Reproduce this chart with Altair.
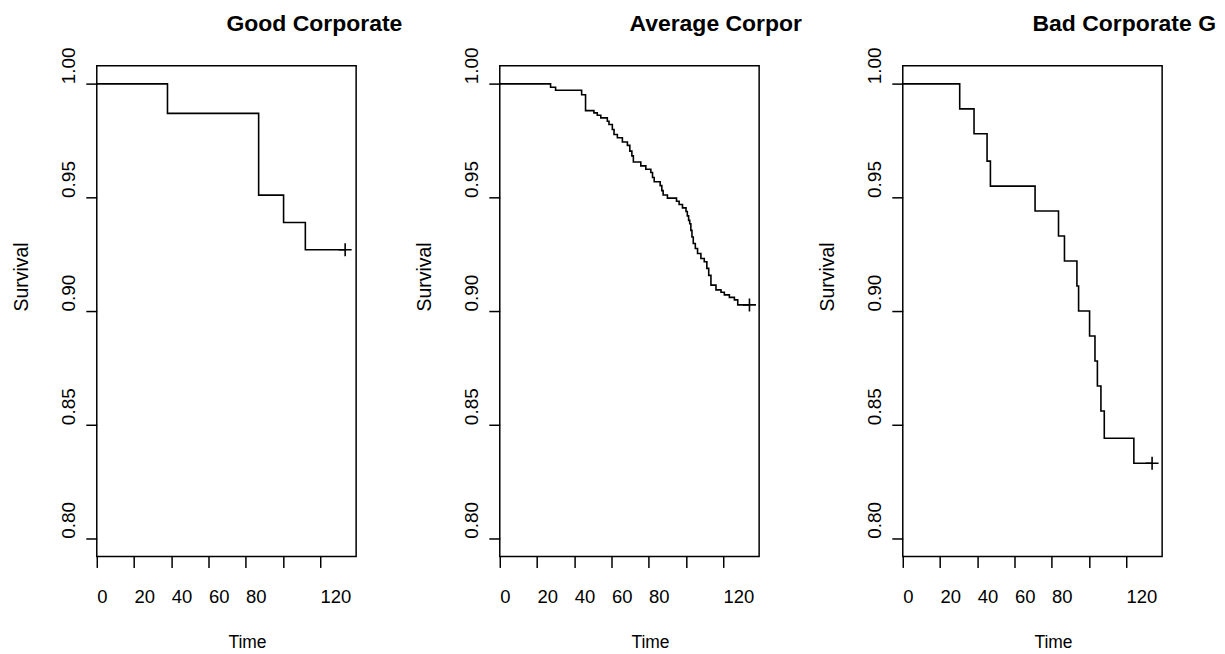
import altair as alt
import pandas as pd

# ---- data (Kaplan-Meier step curves) ----
panel_titles = ["Good Corporate", "Average Corpor", "Bad Corporate G"]

good_times = [38.0, 87.0, 100.4, 112.1]
good_surv = [0.987, 0.951, 0.939, 0.927]
good_end = 133.5

avg_times = [27.3, 30.0, 44.0, 46.1, 50.6, 52.4, 54.3, 57.8, 58.7, 60.5,
             61.4, 63.2, 65.9, 68.6, 69.9, 71.0, 71.8, 75.8, 78.5, 81.2,
             82.1, 83.0, 86.2, 87.1, 87.8, 90.1, 95.0, 96.4, 98.2, 100.1,
             100.8, 101.5, 102.1, 102.7, 103.3, 104.0, 105.1, 106.3, 108.1, 109.9,
             111.3, 112.3, 113.5, 116.2, 118.9, 120.7, 123.4, 126.1, 127.9]
avg_surv = [0.9985, 0.9972, 0.9952, 0.9882, 0.9872, 0.9862, 0.9850, 0.9835, 0.9821, 0.9799,
            0.9777, 0.9763, 0.9744, 0.9729, 0.9704, 0.9683, 0.9656, 0.9639, 0.9624, 0.9610,
            0.9588, 0.9569, 0.9552, 0.9530, 0.9511, 0.9497, 0.9483, 0.9469, 0.9454, 0.9438,
            0.9419, 0.9399, 0.9384, 0.9355, 0.9326, 0.9297, 0.9275, 0.9253, 0.9231, 0.9217,
            0.9188, 0.9157, 0.9114, 0.9093, 0.9083, 0.9071, 0.9060, 0.9049, 0.9027]
avg_end = 134.2

bad_times = [30.6, 38.3, 45.3, 47.1, 71.1, 83.7, 86.9, 93.6, 94.5, 100.4,
             103.3, 104.6, 106.5, 108.3, 124.2]
bad_surv = [0.989, 0.978, 0.966, 0.955, 0.944, 0.933, 0.922, 0.911, 0.900, 0.889,
            0.878, 0.867, 0.856, 0.844, 0.833]
bad_end = 134.0

x_ticks = [0, 20, 40, 60, 80, 100, 120]
y_ticks = [0.80, 0.85, 0.90, 0.95, 1.00]

FONT = "Liberation Sans"
PW, PH = 260, 492


def panel(title, times, surv, end):
    steps = pd.DataFrame({
        "time": [0.0] + list(times) + [end],
        "surv": [1.0] + list(surv) + [surv[-1]],
    })
    cens = pd.DataFrame({"time": [end], "surv": [surv[-1]]})

    xenc = alt.X("time:Q",
                 scale=alt.Scale(domain=[0, 139.4], nice=False, zero=False),
                 axis=alt.Axis(values=x_ticks, format="d",
                               labelExpr="datum.value == 100 ? '' : datum.label",
                               title="Time", titleX=PW / 2 + 1.5, titleY=91.5,
                               titleAlign="left", titleBaseline="alphabetic",
                               titleFontSize=17.5, titleFontWeight="normal",
                               titleFont=FONT, titleColor="black",
                               labelAlign="left", labelBaseline="alphabetic",
                               labelPadding=35.5, labelFontSize=18.5, labelFont=FONT,
                               labelColor="black", labelFlush=False, labelOverlap=False,
                               labelBound=False,
                               tickSize=11, tickWidth=1.5, tickColor="black",
                               domain=False, grid=False))
    yenc = alt.Y("surv:Q",
                 scale=alt.Scale(domain=[0.792, 1.008], nice=False, zero=False),
                 axis=alt.Axis(values=y_ticks, format=".2f",
                               title="Survival", titleX=-69, titleY=PH / 2,
                               titleAngle=270, titleAlign="left",
                               titleBaseline="alphabetic",
                               titleFontSize=19.5, titleFontWeight="normal",
                               titleFont=FONT, titleColor="black",
                               labelAngle=270, labelAlign="left",
                               labelBaseline="alphabetic", labelPadding=11,
                               labelFontSize=19, labelFont=FONT, labelColor="black",
                               labelOverlap=False, labelFlush=False, labelBound=False,
                               tickSize=11, tickWidth=1.5, tickColor="black",
                               domain=False, grid=False))

    line = alt.Chart(steps).mark_line(
        interpolate="step-after", color="black", strokeWidth=1.6
    ).encode(x=xenc, y=yenc)

    mark = alt.Chart(cens).mark_point(
        shape="M-1,0H1M0,-1V1", size=169, color="black",
        strokeWidth=1.6, filled=False, opacity=1
    ).encode(x=xenc, y=yenc)

    return alt.layer(line, mark).properties(
        width=PW, height=PH,
        title=alt.TitleParams(text=title, anchor="middle", align="left",
                              frame="group", baseline="alphabetic", offset=-7,
                              fontSize=23, font=FONT, fontWeight="bold",
                              color="black"))


p1 = panel(panel_titles[0], good_times, good_surv, good_end)
p2 = panel(panel_titles[1], avg_times, avg_surv, avg_end)
p3 = panel(panel_titles[2], bad_times, bad_surv, bad_end)

chart = alt.hconcat(p1, p2, p3, spacing=144, bounds="flush").properties(
    padding={"left": 3, "top": 3, "right": 0, "bottom": 0},
    background="white",
).configure_view(stroke="black", strokeWidth=1.5)

chart.save("out.html", embed_options={"renderer": "svg", "actions": False})
